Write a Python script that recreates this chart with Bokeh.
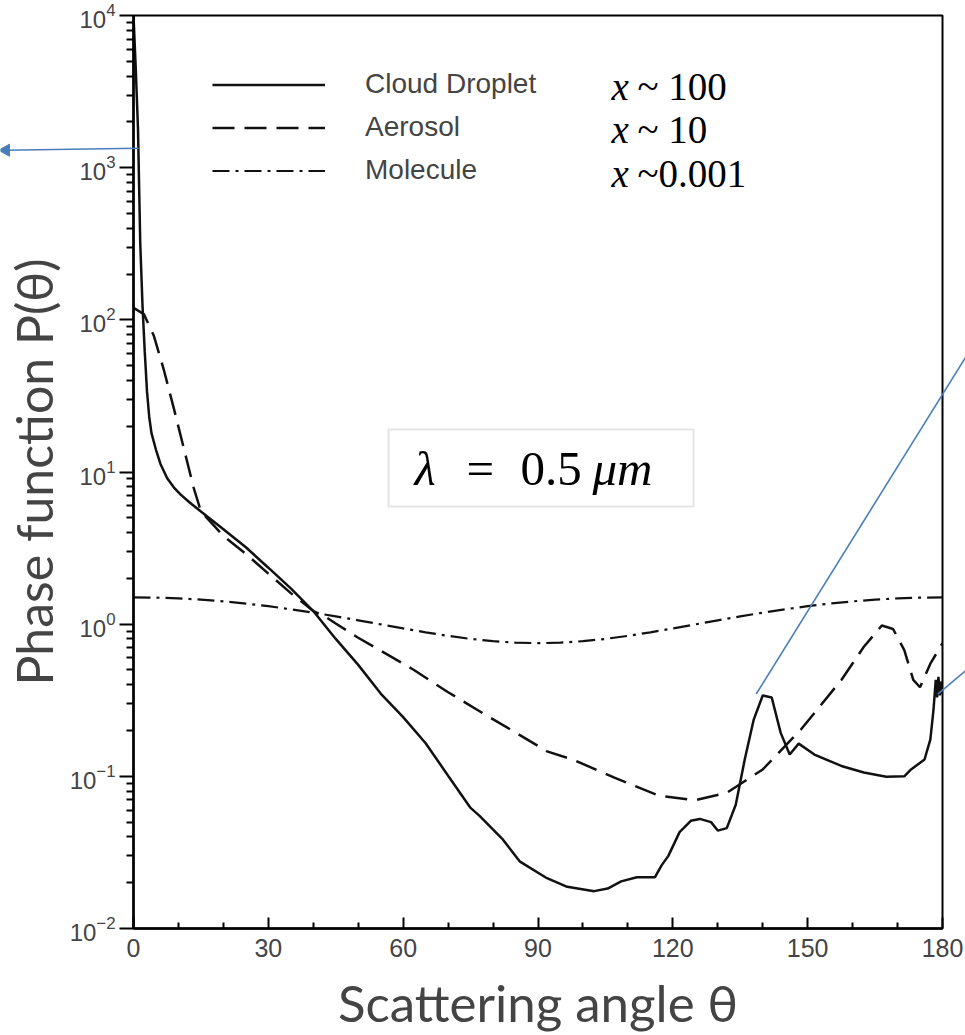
import numpy as np
from bokeh.plotting import figure
from bokeh.layouts import row
from bokeh.models import (Legend, LegendItem, Label, BoxAnnotation,
                          FixedTicker, LogTickFormatter)
from bokeh.embed import file_html
from bokeh.resources import INLINE

# ---------------- data ----------------
cloud_theta = [0, 0.5, 1.0, 1.5, 2.0, 2.5, 3.0, 3.5, 4.0, 5.0, 6.0, 7.5, 9.0, 10.5, 12.5, 15,
               20, 25, 30, 35, 40, 45, 50, 55, 60, 65, 70, 75, 77, 82, 86, 92, 96.5, 102.5,
               105.5, 108.5, 112, 116, 117.5, 119, 121.5, 124, 126, 128.5, 130, 132, 134, 136,
               138, 140, 142, 144, 146, 148, 151.5, 157.5, 162.5, 167.5, 171.5, 173, 176,
               177.3, 178, 178.5, 178.8, 179.1, 179.4, 179.7, 180]
cloud_p = [10000, 4500, 1800, 320, 125, 62, 34, 23, 18, 14, 11.3, 9.1, 7.9, 7.1, 6.3, 5.5,
           4.2, 3.2, 2.35, 1.72, 1.22, 0.80, 0.54, 0.35, 0.245, 0.165, 0.101, 0.062, 0.055,
           0.039, 0.0275, 0.0214, 0.0188, 0.0176, 0.0183, 0.0204, 0.0217, 0.0217, 0.026,
           0.030, 0.043, 0.051, 0.0525, 0.050, 0.044, 0.0457, 0.065, 0.129, 0.236, 0.340,
           0.33, 0.193, 0.139, 0.164, 0.139, 0.117, 0.106, 0.0995, 0.100, 0.111, 0.129,
           0.175, 0.274, 0.43, 0.33, 0.45, 0.34, 0.42, 0.35]

aerosol_theta = [0, 2.3, 4.5, 6.7, 9, 11.2, 13.4, 15, 20, 25, 30, 35, 40, 42.3, 45, 49.8, 55,
                 62.4, 70, 78.3, 85, 92, 98, 107, 117, 125, 132, 140, 148.5, 157.5, 162.5,
                 166.5, 169, 171.5, 173.5, 175, 177.3, 180]
aerosol_p = [120, 109, 79, 47.5, 26, 14.3, 7.85, 5.5, 3.8, 2.9, 2.15, 1.6, 1.22, 1.14, 1.01,
             0.82, 0.67, 0.50, 0.357, 0.254, 0.194, 0.146, 0.128, 0.098, 0.0745, 0.0697,
             0.078, 0.111, 0.203, 0.43, 0.71, 0.98, 0.93, 0.675, 0.43, 0.385, 0.55, 0.75]

molecule_theta = [0, 5, 10, 15, 20, 25, 30, 35, 40, 45, 50, 55, 60, 65, 70, 75, 80, 85, 90,
                  95, 100, 105, 110, 115, 120, 125, 130, 135, 140, 145, 150, 155, 160, 165,
                  170, 175, 180]
molecule_p = [1.50, 1.494, 1.477, 1.450, 1.412, 1.366, 1.313, 1.253, 1.190, 1.125, 1.060,
              0.997, 0.938, 0.884, 0.838, 0.800, 0.773, 0.756, 0.750, 0.756, 0.773, 0.800,
              0.838, 0.884, 0.938, 0.997, 1.060, 1.125, 1.190, 1.253, 1.313, 1.366, 1.412,
              1.450, 1.477, 1.494, 1.50]

series_labels = ["Cloud Droplet", "Aerosol", "Molecule"]
size_params = ["100", "10", "0.001"]
x_ticks = [0, 30, 60, 90, 120, 150, 180]
x_minor = [10, 20, 40, 50, 70, 80, 100, 110, 130, 140, 160, 170]
y_ticks = [1e-2, 1e-1, 1e0, 1e1, 1e2, 1e3, 1e4]

# ---------------- layout helpers (reference pixel -> data) ----------------
FL, FR, FT, FB = 133, 942, 15, 930
def dx(px):
    return (px - FL) / (FR - FL) * 180.0
def dy(py):
    return 10 ** (4 - (py - FT) / (FB - FT) * 6.0)

W, H = 965, 1035
p = figure(width=W, height=H, x_range=(0, 180), y_range=(1e-2, 1e4), y_axis_type="log",
           output_backend="svg", toolbar_location=None,
           min_border_left=FL, min_border_right=W - FR, min_border_top=FT,
           min_border_bottom=H - FB)
p.grid.visible = False
p.outline_line_color = "black"
p.outline_line_width = 2
p.background_fill_color = "white"
p.border_fill_color = "white"

black = "#111111"
r1 = p.line(cloud_theta, cloud_p, line_color=black, line_width=2.5)
r2 = p.line(aerosol_theta, aerosol_p, line_color=black, line_width=2.5, line_dash="22 10")
r3 = p.line(molecule_theta, molecule_p, line_color=black, line_width=2.2, line_dash="17 6 3 6")

# axes
xa = p.xaxis[0]
xa.ticker = FixedTicker(ticks=x_ticks, minor_ticks=x_minor)
xa.major_tick_in = 11
xa.major_tick_out = 0
xa.minor_tick_in = 6
xa.minor_tick_out = 0
xa.axis_line_width = 2.5
xa.major_tick_line_width = 2
xa.minor_tick_line_width = 2
xa.major_label_text_font = "Liberation Sans"
xa.major_label_text_font_size = "25px"
xa.major_label_standoff = 10
xa.axis_label = "Scattering angle θ"
xa.axis_label_text_font = "Lato"
xa.axis_label_text_font_style = "normal"
xa.axis_label_text_font_size = "51px"
xa.axis_label_standoff = 12

ya = p.yaxis[0]
minor = [m * 10.0 ** e for e in range(-2, 4) for m in range(2, 10)]
ya.ticker = FixedTicker(ticks=y_ticks, minor_ticks=minor)
ya.formatter = LogTickFormatter()
ya.major_tick_in = 0
ya.major_tick_out = 14
ya.minor_tick_in = 0
ya.minor_tick_out = 7
ya.axis_line_width = 2.5
ya.major_tick_line_width = 2
ya.minor_tick_line_width = 2
ya.major_label_text_font = "Liberation Sans"
ya.major_label_text_font_size = "24px"
ya.major_label_standoff = 4
ya.axis_label = "Phase function P(θ)"
ya.axis_label_text_font = "Lato"
ya.axis_label_text_font_style = "normal"
ya.axis_label_text_font_size = "50px"
ya.axis_label_standoff = 3

# legend
legend = Legend(items=[LegendItem(label=series_labels[0], renderers=[r1]),
                       LegendItem(label=series_labels[1], renderers=[r2]),
                       LegendItem(label=series_labels[2], renderers=[r3])],
                location=(212 - FL, (FB - FT) - (64.5 - FT) - 129),
                glyph_width=113, glyph_height=43, label_height=43, spacing=0,
                padding=0, margin=0, label_standoff=40,
                border_line_color=None, background_fill_alpha=0,
                label_text_font="Liberation Sans", label_text_font_size="28px")
p.add_layout(legend)

row_y = [86, 129, 173]
for yy, sp in zip(row_y, size_params):
    p.add_layout(Label(x=dx(611), y=dy(yy), text="x", text_font="Liberation Serif",
                       text_font_style="italic", text_font_size="39px",
                       text_baseline="middle", text_align="left", text_color="black"))
    sep = "~ " if sp != "0.001" else "~"
    p.add_layout(Label(x=dx(637), y=dy(yy), text=sep + sp, text_font="Liberation Serif",
                       text_font_size="39px", text_baseline="middle", text_align="left",
                       text_color="black"))

# wavelength box
p.add_layout(BoxAnnotation(left=dx(388), right=dx(693), top=dy(430), bottom=dy(507),
                           fill_alpha=0, line_color="#a6a6a6", line_width=2))
for px, txt, sty in [(414, "λ", "italic"), (466, "=", "normal"), (520, "0.5", "normal"),
                     (592, "μm", "italic")]:
    p.add_layout(Label(x=dx(px), y=dy(469), text=txt, text_font="Liberation Serif",
                       text_font_style=sty, text_font_size="49px", text_baseline="middle",
                       text_align="left", text_color="black"))

# ---- transparent overlay for the blue slide pointers (page pixel coordinates) ----
blue = "#4A7EBB"
pointer_x0 = [138, 755.7, 937.3]
pointer_y0 = [148, 695, 695]
pointer_x1 = [4, 966, 966]
pointer_y1 = [150, 356, 671]
ov = figure(width=W, height=H, x_range=(0, W), y_range=(FB, FT), output_backend="svg",
            toolbar_location=None, min_border_left=0, min_border_right=0,
            min_border_top=FT, min_border_bottom=H - FB,
            x_axis_location=None, y_axis_location=None,
            background_fill_color=None, border_fill_color=None, outline_line_color=None)
ov.grid.visible = False
ov.segment(pointer_x0, pointer_y0, pointer_x1, pointer_y1, line_color=blue, line_width=1.6)
ov.patch([-2, 9, 9], [150, 144, 156], fill_color=blue, line_color=blue)
ov.styles = {"position": "absolute", "left": "0px", "top": "0px"}

root = row(p, ov)
open("out.html", "w").write(file_html(root, INLINE))
